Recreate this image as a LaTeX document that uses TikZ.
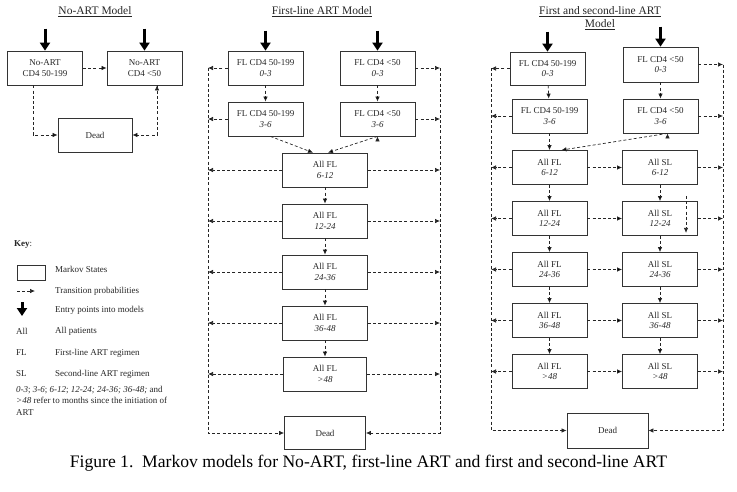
\documentclass[tikz,border=0pt]{standalone}
\usepackage{fontspec}
\setmainfont{Liberation Serif}
\usetikzlibrary{positioning, arrows.meta}

\begin{document}
\begin{tikzpicture}[x=1pt, y=-1pt, node distance=51pt, on grid,
    mstate/.style={draw=black!80, line width=0.8pt, minimum width=75pt, minimum height=34pt,
      inner sep=1pt, align=center, font=\fontsize{9}{10.5}\selectfont, text=black!85},
    trans/.style={draw=black!85, line width=0.7pt, dash pattern=on 3pt off 2.2pt,
      -{Latex[length=5pt,width=4.5pt]}},
    entry/.style={draw=black, line width=3pt, -{Triangle[length=8pt,width=10pt]}},
    title/.style={font=\fontsize{11.5}{13}\selectfont, align=center, text=black!85},
    keytext/.style={anchor=west, inner sep=0pt, font=\fontsize{9}{11.5}\selectfont,
      align=left, text=black!85}]
  \useasboundingbox (0,0) rectangle (737,491);

  % No-ART model
  \node[title] (t1) at (95,12) {\underline{No-ART Model}};
  \node[mstate] (n1) at (45,68)    {No-ART\\CD4 50-199};
  \node[mstate] (n2) at (144.5,68) {No-ART\\CD4 <50};
  \node[mstate, minimum width=74pt] (nd) at (95,135) {Dead};

  \draw[entry] ([yshift=22pt]n1.north) -- (n1.north);
  \draw[entry] ([yshift=22pt]n2.north) -- (n2.north);
  \path[trans]
    (n1) edge (n2)
    ([xshift=-12pt]n1.south) edge[to path={|- (\tikztotarget)}] (nd.west)
    ([xshift=12.5pt]n2.south) edge[to path={|- (\tikztotarget)}] (nd.east);

  % key
  \node[keytext] (key) at (14,245) {\textbf{Key}:};
  \node[draw=black!80, line width=0.8pt, minimum width=28pt, minimum height=15pt] (kbox) at (31,272.5) {};
  \node[keytext] (kstate) at (55,269) {Markov States};
  \coordinate (ka) at (17,291);
  \coordinate (kb) at (35,291);
  \draw[trans] (ka) -- (kb);
  \node[keytext] (ktrans) at (55,291) {Transition probabilities};
  \coordinate (kc) at (22,302);
  \coordinate (kd) at (22,316);
  \draw[entry] (kc) -- (kd);
  \node[keytext] (kentry) at (55,310) {Entry points into models};
  \node[keytext] (kall) at (16,331) {All};
  \node[keytext] (kalltx) at (55,331) {All patients};
  \node[keytext] (kfl) at (16,353) {FL};
  \node[keytext] (kfltx) at (55,353) {First-line ART regimen};
  \node[keytext] (ksl) at (16,374) {SL};
  \node[keytext] (ksltx) at (55,374) {Second-line ART regimen};
  \node[keytext, anchor=north west] (knote) at (16,386)
    {\textit{0-3}; \textit{3-6}; \textit{6-12}; \textit{12-24; 24-36; 36-48;} and\\
     \textit{>48} refer to months since the initiation of\\ART};

  % first-line ART model
  \node[title] (t2) at (322,12) {\underline{First-line ART Model}};
  \node[mstate] (f1a) at (265.5,68) {FL CD4 50-199\\\textit{0-3}};
  \node[mstate] (f1b) at (377.5,68) {FL CD4 <50\\\textit{0-3}};
  \node[mstate] (f2a) [below=of f1a] {FL CD4 50-199\\\textit{3-6}};
  \node[mstate] (f2b) [below=of f1b] {FL CD4 <50\\\textit{3-6}};
  \node[mstate, minimum width=85pt] (f3) at (325,170) {All FL\\\textit{6-12}};
  \node[mstate, minimum width=85pt] (f4) [below=of f3] {All FL\\\textit{12-24}};
  \node[mstate, minimum width=85pt] (f5) [below=of f4] {All FL\\\textit{24-36}};
  \node[mstate, minimum width=85pt] (f6) [below=of f5] {All FL\\\textit{36-48}};
  \node[mstate, minimum width=83pt] (f7) [below=of f6] {All FL\\\textit{>48}};
  \node[mstate, minimum width=81pt, minimum height=33pt] (fd) [below=59pt of f7] {Dead};
  \coordinate (fl) at (208,68);
  \coordinate (fr) at (440,68);

  \draw[entry] ([yshift=20pt]f1a.north) -- (f1a.north);
  \draw[entry] ([yshift=20pt]f1b.north) -- (f1b.north);
  \path[trans]
    (f1a) edge (f2a)
    (f1b) edge (f2b)
    ([xshift=5pt]f2a.south) edge ([xshift=-12pt]f3.north)
    (f2b.south) edge ([xshift=3pt]f3.north)
    (f3) edge (f4)
    (f4) edge (f5)
    (f5) edge (f6)
    (f6) edge (f7);
  \foreach \s in {f1a,f2a,f3,f4,f5,f6,f7}
    \draw[trans] (\s.west) -- (\s.west -| fl);
  \foreach \s in {f1b,f2b,f3,f4,f5,f6,f7}
    \draw[trans] (\s.east) -- (\s.east -| fr);
  \draw[trans] (fl) |- (fd.west);
  \draw[trans] (fr) |- (fd.east);

  % first and second-line ART model
  \node[title] (t3) at (600,18.5) {\underline{First and second-line ART}\\\underline{Model}};
  \node[mstate, minimum height=33pt] (s1a) at (547.5,68.5) {FL CD4 50-199\\\textit{0-3}};
  \node[mstate, minimum height=35pt] (s1b) at (660.5,64.5) {FL CD4 <50\\\textit{0-3}};
  \node[mstate] (s2a) at (549.5,116) {FL CD4 50-199\\\textit{3-6}};
  \node[mstate] (s2b) at (660.5,116) {FL CD4 <50\\\textit{3-6}};
  \node[mstate] (s3a) at (549.5,167.5) {All FL\\\textit{6-12}};
  \node[mstate] (s3b) at (660,167.5)   {All SL\\\textit{6-12}};
  \node[mstate] (s4a) [below=of s3a] {All FL\\\textit{12-24}};
  \node[mstate] (s4b) [below=of s3b] {All SL\\\textit{12-24}};
  \node[mstate] (s5a) [below=of s4a] {All FL\\\textit{24-36}};
  \node[mstate] (s5b) [below=of s4b] {All SL\\\textit{24-36}};
  \node[mstate] (s6a) [below=of s5a] {All FL\\\textit{36-48}};
  \node[mstate] (s6b) [below=of s5b] {All SL\\\textit{36-48}};
  \node[mstate] (s7a) [below=of s6a] {All FL\\\textit{>48}};
  \node[mstate] (s7b) [below=of s6b] {All SL\\\textit{>48}};
  \node[mstate, minimum width=81pt, minimum height=35pt] (sd) at (607.5,430.5) {Dead};
  \coordinate (sl) at (491,68);
  \coordinate (sr) at (723,64.5);

  \draw[entry] ([yshift=20pt]s1a.north) -- (s1a.north);
  \draw[entry] ([yshift=20pt]s1b.north) -- (s1b.north);
  \path[trans]
    (s1a) edge (s2a)
    (s1b) edge (s2b)
    (s2a) edge (s3a)
    ([xshift=7pt]s2b.south) edge ([xshift=12pt]s3a.north)
    (s3a) edge (s4a)  (s4a) edge (s5a)  (s5a) edge (s6a)  (s6a) edge (s7a)
    (s3b) edge (s4b)  (s4b) edge (s5b)  (s5b) edge (s6b)  (s6b) edge (s7b)
    (s3a) edge (s3b)  (s4a) edge (s4b)  (s5a) edge (s5b)  (s6a) edge (s6b)  (s7a) edge (s7b);
  \draw[trans] ([xshift=26pt,yshift=-11pt]s3b.south) -- ([xshift=26pt,yshift=3pt]s4b.south);
  \foreach \s in {s1a,s2a,s3a,s4a,s5a,s6a,s7a}
    \draw[trans] (\s.west) -- (\s.west -| sl);
  \foreach \s in {s1b,s2b,s3b,s4b,s5b,s6b,s7b}
    \draw[trans] (\s.east) -- (\s.east -| sr);
  \draw[trans] (sl) |- (sd.west);
  \draw[trans] (sr) |- (sd.east);

  % caption
  \node[font=\fontsize{17.6}{20}\selectfont] (cap) at (368.5,463)
    {Figure 1.\ \ Markov models for No-ART, first-line ART and first and second-line ART};
\end{tikzpicture}
\end{document}
